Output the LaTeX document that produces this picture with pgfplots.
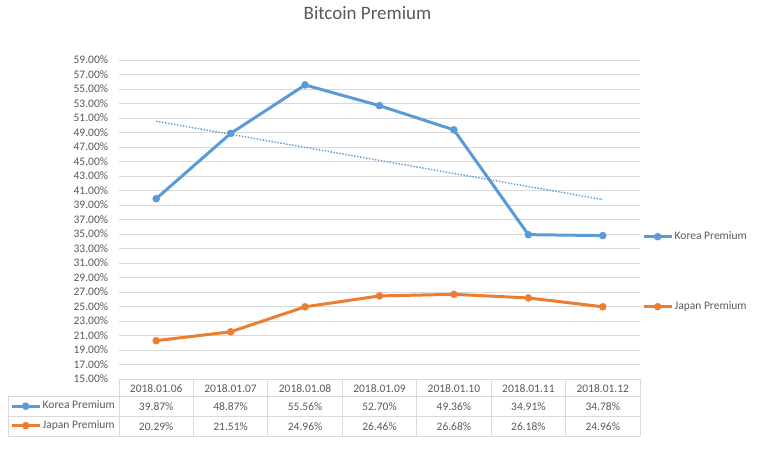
\documentclass[border=0pt]{standalone}
\usepackage{fontspec}
\setmainfont{Carlito}
\usepackage{pgfplots}
\pgfplotsset{compat=1.18}
\definecolor{kblue}{HTML}{5B9BD5}
\definecolor{jorange}{HTML}{ED7D31}
\definecolor{txt}{HTML}{595959}
\definecolor{grd}{HTML}{D9D9D9}
\begin{document}
\begin{tikzpicture}[font=\fontsize{11.5}{13}\selectfont]
\begin{axis}[
  at={(119pt,77pt)}, anchor=south west, scale only axis,
  width=521pt, height=319pt,
  xmin=0.5, xmax=7.5, ymin=15, ymax=59,
  ytick={15,17,...,59}, xtick=\empty,
  ymajorgrids, grid style={grd, line width=0.8pt},
  axis line style={draw=none}, major tick length=0pt,
  /pgf/number format/assume math mode=true,
  yticklabel={\pgfmathprintnumber[fixed,fixed zerofill,precision=2]{\tick}\%},
  yticklabel style={anchor=east, inner sep=0pt, xshift=-10.7pt, text=txt},
  title={Bitcoin Premium},
  title style={at={(axis description cs:0.477,1.1066)}, anchor=base,
    font=\fontsize{19}{22}\selectfont, text=txt, inner sep=0pt},
  clip=false,
  legend image code/.code={\draw[mark repeat=2,mark phase=2,#1] plot coordinates {(0pt,0pt) (14pt,0pt) (28pt,0pt)};},
  legend style={at={(axis description cs:1.0038,0.3364)}, anchor=west,
    draw=none, fill=none, inner sep=0pt, row sep=57.5pt, column sep=0.5pt,
    nodes={inner sep=1pt, text=txt, text height=8pt, text depth=2.5pt,
      font=\fontsize{11.5}{13}\selectfont}},
  legend cell align=left,
]
\addplot[kblue, line width=3pt, mark=*, mark size=3.5pt,
  mark options={solid, fill=kblue, draw=kblue, line width=0.5pt}]
  coordinates {(1,39.87)(2,48.87)(3,55.56)(4,52.70)(5,49.36)(6,34.91)(7,34.78)};
\addlegendentry{Korea Premium}
\addplot[jorange, line width=3pt, mark=*, mark size=3.5pt,
  mark options={solid, fill=jorange, draw=jorange, line width=0.5pt}]
  coordinates {(1,20.29)(2,21.51)(3,24.96)(4,26.46)(5,26.68)(6,26.18)(7,24.96)};
\addlegendentry{Japan Premium}
\addplot[kblue, line width=1.4pt, dash pattern=on 1.4pt off 1.6pt, forget plot]
  coordinates {(1,50.55)(7,39.75)};
\end{axis}
% second axis only for the data table's legend keys
\begin{axis}[
  at={(119pt,77pt)}, anchor=south west, scale only axis,
  width=521pt, height=319pt, hide axis,
  xmin=0, xmax=1, ymin=0, ymax=1,
  legend image code/.code={\draw[mark repeat=2,mark phase=2,#1] plot coordinates {(0pt,0pt) (14pt,0pt) (28pt,0pt)};},
  legend style={at={(axis description cs:-0.2092,-0.1157)}, anchor=west,
    draw=none, fill=none, inner sep=0pt, row sep=7pt, column sep=0.5pt,
    nodes={inner sep=1pt, text=txt, text height=8pt, text depth=2.5pt,
      font=\fontsize{11.5}{13}\selectfont}},
  legend cell align=left,
]
\addlegendimage{kblue, line width=3pt, mark=*, mark size=3.5pt, mark options={solid, fill=kblue, draw=kblue, line width=0.5pt}}
\addlegendentry{Korea Premium}
\addlegendimage{jorange, line width=3pt, mark=*, mark size=3.5pt, mark options={solid, fill=jorange, draw=jorange, line width=0.5pt}}
\addlegendentry{Japan Premium}
\end{axis}
% data table grid
\begin{scope}[grd, line width=0.8pt]
  \draw (8pt,59.3pt) -- (640pt,59.3pt);
  \draw (8pt,40pt) -- (640pt,40pt);
  \draw (8pt,20pt) -- (640pt,20pt);
  \draw (8pt,59.3pt) -- (8pt,20pt);
  \foreach \xx in {119,193.43,267.86,342.29,416.71,491.14,565.57,640}
    \draw (\xx pt,77pt) -- (\xx pt,20pt);
\end{scope}
\begin{scope}[every node/.style={text=txt, anchor=base, inner sep=0pt}]
  \node at (156.2pt,63.3pt) {2018.01.06};
  \node at (230.6pt,63.3pt) {2018.01.07};
  \node at (305.1pt,63.3pt) {2018.01.08};
  \node at (379.5pt,63.3pt) {2018.01.09};
  \node at (453.9pt,63.3pt) {2018.01.10};
  \node at (528.4pt,63.3pt) {2018.01.11};
  \node at (602.8pt,63.3pt) {2018.01.12};
  \node at (156.2pt,45.7pt) {39.87\%};
  \node at (230.6pt,45.7pt) {48.87\%};
  \node at (305.1pt,45.7pt) {55.56\%};
  \node at (379.5pt,45.7pt) {52.70\%};
  \node at (453.9pt,45.7pt) {49.36\%};
  \node at (528.4pt,45.7pt) {34.91\%};
  \node at (602.8pt,45.7pt) {34.78\%};
  \node at (156.2pt,26pt) {20.29\%};
  \node at (230.6pt,26pt) {21.51\%};
  \node at (305.1pt,26pt) {24.96\%};
  \node at (379.5pt,26pt) {26.46\%};
  \node at (453.9pt,26pt) {26.68\%};
  \node at (528.4pt,26pt) {26.18\%};
  \node at (602.8pt,26pt) {24.96\%};
\end{scope}
\pgfresetboundingbox
\path (0pt,0pt) rectangle (761pt,456pt);
\end{tikzpicture}
\end{document}
